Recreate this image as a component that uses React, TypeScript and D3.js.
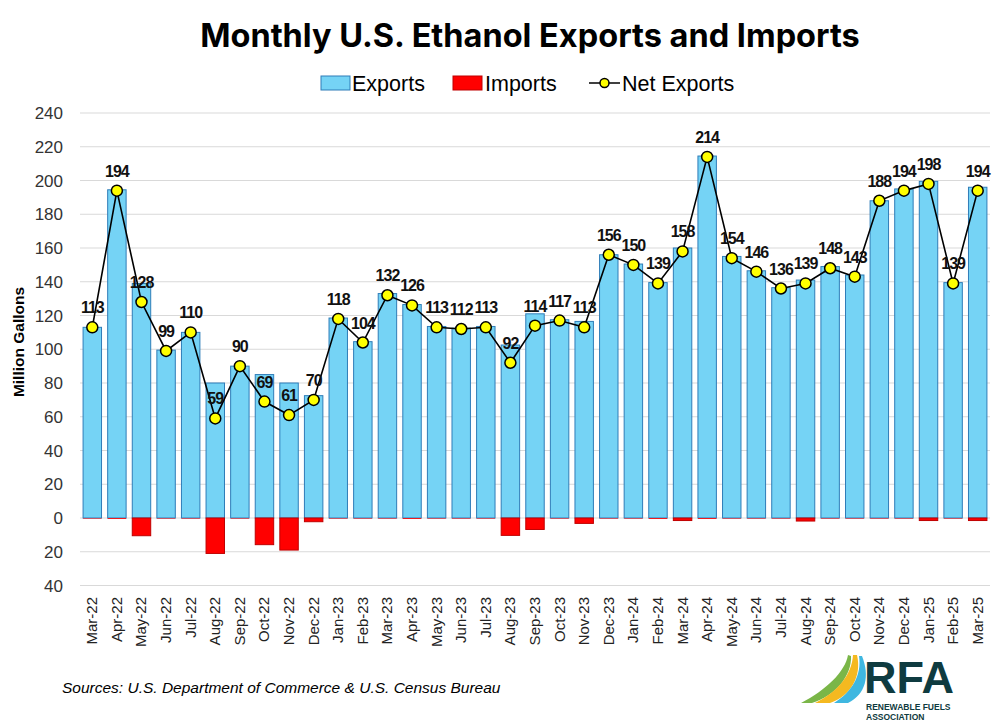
import React, { useEffect, useRef } from "react";
import * as d3 from "d3";

const months = [
  "Mar-22", "Apr-22", "May-22", "Jun-22", "Jul-22", "Aug-22", "Sep-22", "Oct-22", "Nov-22", "Dec-22",
  "Jan-23", "Feb-23", "Mar-23", "Apr-23", "May-23", "Jun-23", "Jul-23", "Aug-23", "Sep-23", "Oct-23",
  "Nov-23", "Dec-23", "Jan-24", "Feb-24", "Mar-24", "Apr-24", "May-24", "Jun-24", "Jul-24", "Aug-24",
  "Sep-24", "Oct-24", "Nov-24", "Dec-24", "Jan-25", "Feb-25", "Mar-25",
];

const exportsM = [
  113, 194.5, 139, 99.5, 110, 80, 90, 85, 80, 72.5,
  118.5, 104.5, 133, 126.5, 113.5, 112.5, 113.5, 102.5, 121, 117.5,
  116.5, 156, 150.5, 139.5, 160, 214.5, 155, 146.5, 136.5, 141,
  149, 144, 188, 195, 199.5, 139.5, 196,
];

const importsM = [
  0.3, 0.5, 10.5, 0.3, 0.3, 21, 0.3, 15.8, 19, 2.2,
  0.3, 0.3, 0.3, 0.5, 0.3, 0.3, 0.3, 10.3, 6.8, 0.3,
  3.2, 0.3, 0.3, 0.5, 1.5, 0.5, 0.3, 0.3, 0.3, 1.8,
  0.3, 0.3, 0.3, 0.3, 1.5, 0.3, 1.5,
];

const netExports = [
  113, 194, 128, 99, 110, 59, 90, 69, 61, 70,
  118, 104, 132, 126, 113, 112, 113, 92, 114, 117,
  113, 156, 150, 139, 158, 214, 154, 146, 136, 139,
  148, 143, 188, 194, 198, 139, 194,
];

const yTicks = [-40, -20, 0, 20, 40, 60, 80, 100, 120, 140, 160, 180, 200, 220, 240];

const W = 1000;
const H = 725;
const SANS = "'Liberation Sans', Arial, sans-serif";

export default function App() {
  const svgRef = useRef<SVGSVGElement>(null);

  useEffect(() => {
    const svg = d3.select(svgRef.current);
    svg.selectAll("*").remove();

    const left = 80;
    const right = 990;

    const x = d3.scaleBand<string>().domain(months).range([left, right]).paddingInner(0.25).paddingOuter(0.125);
    const y = d3.scaleLinear().domain([-40, 240]).range([585.5, 113]);

    svg.append("rect").attr("width", W).attr("height", H).attr("fill", "#fff");

    // title
    svg
      .append("text")
      .attr("x", 530)
      .attr("y", 47)
      .attr("text-anchor", "middle")
      .attr("font-family", "Inter, 'Open Sans', sans-serif")
      .attr("font-weight", 700)
      .attr("font-size", 32.5)
      .attr("fill", "#000")
      .text("Monthly U.S. Ethanol Exports and Imports");

    // legend
    const lg = svg.append("g").attr("font-family", SANS).attr("font-size", 21.5);
    lg.append("rect").attr("x", 321).attr("y", 76).attr("width", 29).attr("height", 14).attr("fill", "#75d3f5").attr("stroke", "#2f7db8").attr("stroke-width", 1);
    lg.append("text").attr("x", 352).attr("y", 90.5).text("Exports");
    lg.append("rect").attr("x", 453).attr("y", 76).attr("width", 29).attr("height", 14).attr("fill", "#ff0000").attr("stroke", "#c00000").attr("stroke-width", 1);
    lg.append("text").attr("x", 485).attr("y", 90.5).text("Imports");
    lg.append("line").attr("x1", 589).attr("x2", 620).attr("y1", 83).attr("y2", 83).attr("stroke", "#000").attr("stroke-width", 1.5);
    lg.append("circle").attr("cx", 604.5).attr("cy", 83).attr("r", 4.5).attr("fill", "#ffff00").attr("stroke", "#000").attr("stroke-width", 1.5);
    lg.append("text").attr("x", 622).attr("y", 90.5).text("Net Exports");

    // grid
    svg
      .append("g")
      .selectAll("line")
      .data(yTicks)
      .join("line")
      .attr("x1", left)
      .attr("x2", right)
      .attr("y1", (d) => y(d))
      .attr("y2", (d) => y(d))
      .attr("stroke", "#d9d9d9")
      .attr("stroke-width", 1);

    // y ticks
    svg
      .append("g")
      .attr("font-family", SANS)
      .attr("font-size", 17)
      .attr("fill", "#333")
      .selectAll("text")
      .data(yTicks)
      .join("text")
      .attr("x", 63)
      .attr("y", (d) => y(d) + 6)
      .attr("text-anchor", "end")
      .text((d) => String(Math.abs(d)));

    svg
      .append("text")
      .attr("transform", "translate(24,342) rotate(-90)")
      .attr("text-anchor", "middle")
      .attr("font-family", SANS)
      .attr("font-weight", 700)
      .attr("font-size", 15.5)
      .text("Million Gallons");

    // export bars
    svg
      .append("g")
      .selectAll("rect")
      .data(months)
      .join("rect")
      .attr("x", (d) => x(d)!)
      .attr("width", x.bandwidth())
      .attr("y", (_, i) => y(exportsM[i]))
      .attr("height", (_, i) => y(0) - y(exportsM[i]))
      .attr("fill", "#75d3f5")
      .attr("stroke", "#2f7db8")
      .attr("stroke-width", 1);

    // import bars
    svg
      .append("g")
      .selectAll("rect")
      .data(months)
      .join("rect")
      .attr("x", (d) => x(d)!)
      .attr("width", x.bandwidth())
      .attr("y", y(0))
      .attr("height", (_, i) => y(-importsM[i]) - y(0))
      .attr("fill", "#ff0000")
      .attr("stroke", "#c00000")
      .attr("stroke-width", (_, i) => (importsM[i] > 1 ? 1 : 0));

    // net exports line
    const cx = (i: number) => x(months[i])! + x.bandwidth() / 2;
    const line = d3
      .line<number>()
      .x((_, i) => cx(i))
      .y((d) => y(d));
    svg.append("path").attr("d", line(netExports)).attr("fill", "none").attr("stroke", "#000").attr("stroke-width", 1.6);

    svg
      .append("g")
      .selectAll("circle")
      .data(netExports)
      .join("circle")
      .attr("cx", (_, i) => cx(i))
      .attr("cy", (d) => y(d))
      .attr("r", 5.5)
      .attr("fill", "#ffff00")
      .attr("stroke", "#000")
      .attr("stroke-width", 1.5);

    svg
      .append("g")
      .attr("font-family", SANS)
      .attr("font-size", 16)
      .attr("font-weight", 700)
      .attr("letter-spacing", -1)
      .attr("fill", "#111")
      .selectAll("text")
      .data(netExports)
      .join("text")
      .attr("x", (_, i) => cx(i))
      .attr("y", (d) => y(d) - 14)
      .attr("text-anchor", "middle")
      .text((d) => String(d));

    // x labels
    svg
      .append("g")
      .attr("font-family", SANS)
      .attr("font-size", 15)
      .attr("fill", "#222")
      .selectAll("text")
      .data(months)
      .join("text")
      .attr("transform", (d, i) => `translate(${cx(i) + 5},597) rotate(-90)`)
      .attr("text-anchor", "end")
      .text((d) => d);

    // source
    svg
      .append("text")
      .attr("x", 62)
      .attr("y", 693)
      .attr("font-family", SANS)
      .attr("font-style", "italic")
      .attr("font-size", 15.5)
      .text("Sources: U.S. Department of Commerce & U.S. Census Bureau");

    // RFA logo
    const logo = svg.append("g");
    logo.append("path").attr("d", "M801,703 C826,690 845,672 848,655 L851,656 C852,676 835,696 812,703 Z").attr("fill", "#7ab648");
    logo.append("path").attr("d", "M815,703 C838,692 852,674 853,655 L857,655 C862,676 851,696 830,703 Z").attr("fill", "#f5b920");
    logo.append("path").attr("d", "M834,703 C852,692 862,675 859,656 L862,656 C870,676 866,694 848,703 Z").attr("fill", "#3fb7e0");
    logo
      .append("text")
      .attr("x", 864)
      .attr("y", 693)
      .attr("font-family", SANS)
      .attr("font-weight", 700)
      .attr("font-size", 45)
      .attr("fill", "#0f3b40")
      .text("RFA");
    logo
      .append("text")
      .attr("x", 866)
      .attr("y", 710)
      .attr("font-family", SANS)
      .attr("font-weight", 700)
      .attr("font-size", 8.5)
      .attr("fill", "#0f3b40")
      .text("RENEWABLE FUELS");
    logo
      .append("text")
      .attr("x", 866)
      .attr("y", 720)
      .attr("font-family", SANS)
      .attr("font-weight", 700)
      .attr("font-size", 8.5)
      .attr("fill", "#0f3b40")
      .text("ASSOCIATION");
  }, []);

  return (
    <svg
      ref={svgRef}
      width={W}
      height={H}
      style={{ position: "absolute", left: 0, top: 0, display: "block" }}
    />
  );
}
